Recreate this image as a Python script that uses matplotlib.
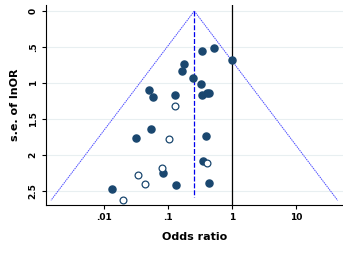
import numpy as np
import matplotlib
matplotlib.use("Agg")
from matplotlib import pyplot as plt

# studies drawn as filled markers
or_filled = [0.343, 0.529, 1.0, 0.180, 0.164, 0.248, 0.331, 0.0505, 0.0577, 0.130,
             0.343, 0.402, 0.442, 0.0537, 0.0316, 0.392, 0.356, 0.0845, 0.133,
             0.442, 0.0133]
se_filled = [0.551, 0.514, 0.685, 0.740, 0.837, 0.935, 1.018, 1.093, 1.199, 1.171,
             1.171, 1.143, 1.143, 1.640, 1.768, 1.732, 2.079, 2.254, 2.412,
             2.389, 2.476]

# studies drawn as hollow markers
or_hollow = [0.129, 0.105, 0.411, 0.0815, 0.034, 0.0442, 0.020]
se_hollow = [1.319, 1.782, 2.115, 2.176, 2.282, 2.403, 2.629]

pooled_or = 0.257
se_max = 2.63
pooled_se_end = 2.59

xticks = [0.01, 0.1, 1, 10]
xticklabels = [".01", ".1", "1", "10"]
yticks = [0, 0.5, 1, 1.5, 2, 2.5]
yticklabels = ["0", ".5", "1", "1.5", "2", "2.5"]

navy = "#1a476f"

fig = plt.figure(figsize=(3.43, 2.54), dpi=100)
ax = fig.add_axes([0.134, 0.193, 0.866, 0.787])

for y in yticks:
    ax.axhline(y, color="#e8eff1", lw=0.8, zorder=0)

# funnel
se_line = np.array([0, se_max])
lo = np.exp(np.log(pooled_or) - 1.96 * se_line)
hi = np.exp(np.log(pooled_or) + 1.96 * se_line)
ax.plot(lo, se_line, color="#4a4aff", lw=0.7, ls=(0, (1.5, 0.8)), zorder=1)
ax.plot(hi, se_line, color="#4a4aff", lw=0.7, ls=(0, (1.5, 0.8)), zorder=1)
ax.plot([pooled_or, pooled_or], [0, pooled_se_end], color="#0000ee", lw=0.9,
        ls=(0, (4, 1.5)), zorder=1)
ax.axvline(1, color="black", lw=0.9, zorder=1)

ax.scatter(or_filled, se_filled, s=26, color=navy, edgecolors=navy, zorder=3)
ax.scatter(or_hollow, se_hollow, s=24, facecolors="white", edgecolors=navy,
           linewidths=0.9, zorder=3)

ax.set_xscale("log")
ax.set_xlim(0.00124, 54)
ax.set_ylim(2.694, -0.083)
ax.set_xticks(xticks)
ax.set_xticklabels(xticklabels)
ax.xaxis.set_minor_locator(matplotlib.ticker.NullLocator())
ax.set_yticks(yticks)
ax.set_yticklabels(yticklabels, rotation=90, va="center")

for lab in ax.get_xticklabels() + ax.get_yticklabels():
    lab.set_fontsize(6.5)
    lab.set_fontweight("bold")
ax.tick_params(length=3, width=0.8, pad=3)

ax.set_xlabel("Odds ratio", fontsize=8, fontweight="bold", labelpad=7)
ax.set_ylabel("s.e. of lnOR", fontsize=8, fontweight="bold", labelpad=6)

ax.spines["top"].set_visible(False)
ax.spines["right"].set_visible(False)
ax.spines["left"].set_linewidth(0.8)
ax.spines["bottom"].set_linewidth(0.8)

fig.savefig("out.png", dpi=100)
